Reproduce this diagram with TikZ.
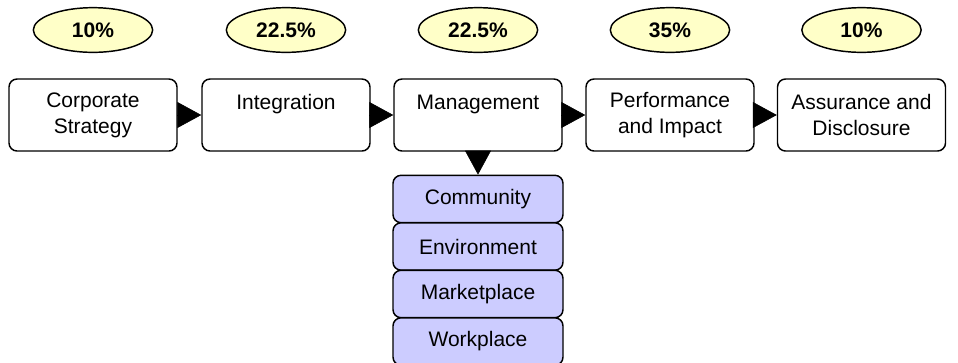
\documentclass[tikz,border=0pt]{standalone}
\usepackage{fontspec}
\setmainfont{Liberation Sans}
\usetikzlibrary{shapes.geometric,arrows.meta}
\definecolor{pctfill}{RGB}{255,255,200}
\definecolor{areafill}{RGB}{204,204,255}
\newcommand\diagfont{\fontsize{15.75pt}{19.5pt}\selectfont}
\tikzset{
  stage/.style={draw,rounded corners=6pt,line width=1.1pt,fill=white,minimum width=126pt,minimum height=54pt,align=center,inner sep=0pt,font=\diagfont},
  area/.style={stage,fill=areafill,minimum width=127.5pt,minimum height=35.5pt},
  pct/.style={draw,ellipse,line width=1.1pt,fill=pctfill,minimum width=89.5pt,minimum height=33.5pt,inner sep=0pt,font=\diagfont\bfseries},
  flow/.style={-{Triangle[length=18pt,width=19.5pt]},line width=0.4pt}
}
\begin{document}
\begin{tikzpicture}[x=0.75pt,y=0.75pt,yscale=-1,xscale=1]
\useasboundingbox (0,0) rectangle (958,362);

%Shape: Ellipse, weights
\node [pct] (pctcorp) at (93,30) {10\%};
\node [pct] (pctinteg) at (286,30) {22.5\%};
\node [pct] (pctmgmt) at (478,30) {22.5\%};
\node [pct] (pctperf) at (670,30) {35\%};
\node [pct] (pctassur) at (861.5,30) {10\%};

%Shape: Rounded rect, stages
\node [stage] (corp) at (93,115) {Corporate\\Strategy};
\node [stage] (integ) at (286,115) {Integration\\\mbox{}};
\node [stage] (mgmt) at (478,115) {Management\\\mbox{}};
\node [stage] (perf) at (670,115) {Performance\\and Impact};
\node [stage] (assur) at (861.5,115) {Assurance and\\Disclosure};

%Shape: Rounded rect, areas
\node [area] (comm) at (478,199) {Community};
\node [area] (envir) at (478,246.5) {Environment};
\node [area] (market) at (478,294) {Marketplace};
\node [area] (work) at (478,341.5) {Workplace};

%Straight Lines
\draw [flow] (corp.east) -- (integ.west);
\draw [flow] (integ.east) -- (mgmt.west);
\draw [flow] (mgmt.east) -- (perf.west);
\draw [flow] (perf.east) -- (assur.west);
\draw [flow] (mgmt.south) -- (comm.north);

\end{tikzpicture}
\end{document}
